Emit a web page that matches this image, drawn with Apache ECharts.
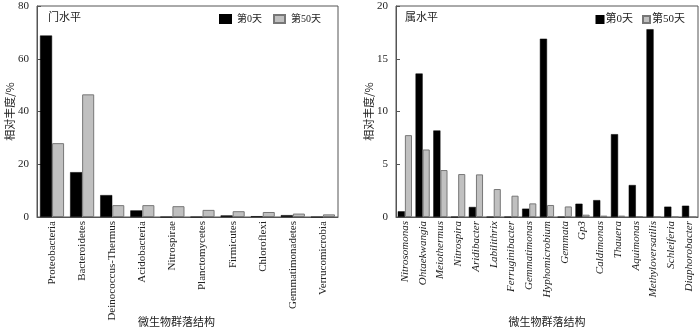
<!DOCTYPE html>
<html><head><meta charset="utf-8">
<script src="https://cdn.jsdelivr.net/npm/echarts@6/dist/echarts.min.js"></script>
<style>html,body{margin:0;padding:0;background:#fff}#c{width:700px;height:330px}</style>
</head><body><div id="c"></div>
<script>
const phylumCats = ['Proteobacteria','Bacteroidetes','Deinococcus-Thermus','Acidobacteria','Nitrospirae','Planctomycetes','Firmicutes','Chloroflexi','Gemmatimonadetes','Verrucomicrobia'];
const phylumDay0 = [68.8, 17.0, 8.3, 2.5, 0, 0, 0.6, 0.3, 0.7, 0];
const phylumDay50 = [28.0, 46.5, 4.5, 4.5, 4.1, 2.7, 2.2, 1.9, 1.3, 1.0];
const genusCats = ['Nitrosomonas','Ohtaekwangia','Meiothermus','Nitrospira','Aridibacter','Labilithrix','Ferruginibacter','Gemmatimonas','Hyphomicrobium','Gemmata','Gp3','Caldimonas','Thauera','Aquimonas','Methyloversatilis','Schleiferia','Diaphorobacter'];
const genusDay0 = [0.54, 13.6, 8.2, 0, 0.95, 0, 0, 0.79, 16.9, 0, 1.26, 1.6, 7.85, 3.03, 17.8, 0.98, 1.07];
const genusDay50 = [7.76, 6.4, 4.45, 4.07, 4.04, 2.65, 2.02, 1.29, 1.14, 1.0, 0.22, 0.13, 0.13, 0.06, 0, 0, 0];
const phylumTicks = {min: 0, max: 80, interval: 20};
const genusTicks = {min: 0, max: 20, interval: 5};
const seriesNames = ['第0天', '第50天'];
const panelTitles = ['门水平', '属水平'];
const xName = '微生物群落结构';
const yName = '相对丰度/%';

const FONT = "'Liberation Serif', 'Noto Sans CJK SC', serif";
const CJK = "'Noto Sans CJK SC', sans-serif";
const chart = echarts.init(document.getElementById('c'));
const blackStyle = {color: '#000', borderColor: '#000', borderWidth: 0.5};
const greyStyle = {color: '#c0c0c0', borderColor: '#777', borderWidth: 1};

function xAx(idx, cats, italic, shift) {
  return {
    type: 'category', gridIndex: idx, data: cats,
    name: xName, nameLocation: 'middle', nameGap: 99, nameMoveOverlap: false,
    nameTextStyle: {fontFamily: CJK, fontSize: 11, color: '#222', padding: shift > 0 ? [0, shift, 0, 0] : [0, 0, 0, -shift]},
    axisLine: {lineStyle: {color: '#555', width: 1}},
    axisTick: {inside: true, length: 3, lineStyle: {color: '#555'}},
    axisLabel: {rotate: 90, interval: 0, fontFamily: FONT, fontSize: 11, color: '#222', fontStyle: italic ? 'italic' : 'normal', margin: 4, hideOverlap: false}
  };
}
function yAx(idx, t) {
  return {
    type: 'value', gridIndex: idx, min: t.min, max: t.max, interval: t.interval,
    name: yName, nameLocation: 'middle', nameGap: 22, nameMoveOverlap: false,
    nameTextStyle: {fontFamily: CJK, fontSize: 11, color: '#222'},
    axisLine: {show: true, lineStyle: {color: '#555', width: 1}},
    axisTick: {show: true, inside: true, length: 4, lineStyle: {color: '#555'}},
    axisLabel: {fontFamily: FONT, fontSize: 11, color: '#222', margin: 8},
    splitLine: {show: false}
  };
}
const option = {
  animation: false,
  textStyle: {fontFamily: FONT},
  grid: [
    {left: 37, right: 362, top: 6, bottom: 113, show: true, borderColor: '#555', borderWidth: 1, containLabel: false, outerBoundsMode: 'none'},
    {left: 396, right: 2, top: 6, bottom: 113, show: true, borderColor: '#555', borderWidth: 1, containLabel: false, outerBoundsMode: 'none'}
  ],
  title: [
    {text: panelTitles[0], left: 43, top: 6, textStyle: {fontFamily: CJK, fontSize: 11, fontWeight: 'normal', color: '#222'}},
    {text: panelTitles[1], left: 400, top: 6, textStyle: {fontFamily: CJK, fontSize: 11, fontWeight: 'normal', color: '#222'}}
  ],
  legend: [
    {data: seriesNames, right: 374, top: 9, itemWidth: 11, itemHeight: 8, itemGap: 11, icon: 'rect',
     textStyle: {fontFamily: FONT, fontSize: 10, color: '#222', padding: [0,0,0,1]}},
    {data: seriesNames, right: 10, top: 9, itemWidth: 7, itemHeight: 7, itemGap: 9, icon: 'rect',
     textStyle: {fontFamily: FONT, fontSize: 11, color: '#222', padding: [0,0,0,-3]}}
  ],
  xAxis: [xAx(0, phylumCats, false, 22), xAx(1, genusCats, true, 0)],
  yAxis: [yAx(0, phylumTicks), yAx(1, genusTicks)],
  series: [
    {name: seriesNames[0], type: 'bar', xAxisIndex: 0, yAxisIndex: 0, data: phylumDay0, itemStyle: blackStyle, barGap: '0%', barCategoryGap: '20%'},
    {name: seriesNames[1], type: 'bar', xAxisIndex: 0, yAxisIndex: 0, data: phylumDay50, itemStyle: greyStyle, barGap: '0%', barCategoryGap: '20%'},
    {name: seriesNames[0], type: 'bar', xAxisIndex: 1, yAxisIndex: 1, data: genusDay0, itemStyle: blackStyle, barGap: '0%', barCategoryGap: '20%'},
    {name: seriesNames[1], type: 'bar', xAxisIndex: 1, yAxisIndex: 1, data: genusDay50, itemStyle: greyStyle, barGap: '0%', barCategoryGap: '20%'}
  ]
};
chart.setOption(option);
</script></body></html>
